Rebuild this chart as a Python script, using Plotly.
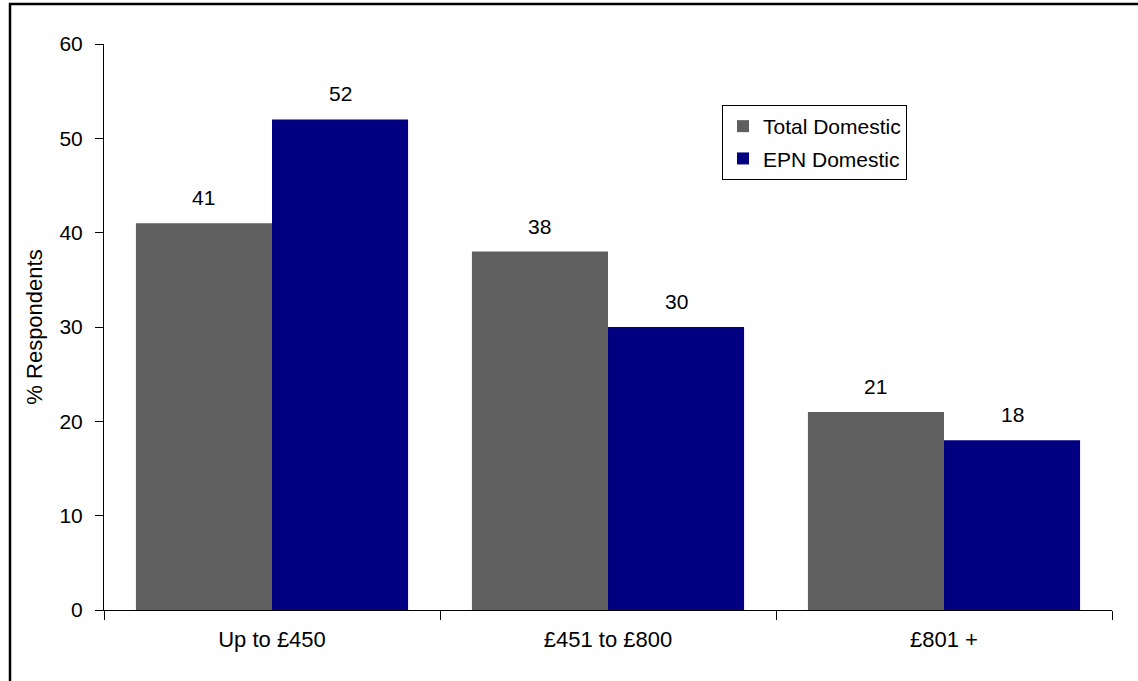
import plotly.graph_objects as go

categories = ["Up to £450", "£451 to £800", "£801 +"]
total_domestic = [41, 38, 21]
epn_domestic = [52, 30, 18]
y_ticks = [0, 10, 20, 30, 40, 50, 60]

font = "Liberation Sans, Arial, sans-serif"
colors = {"Total Domestic": "#5f5f5f", "EPN Domestic": "#000080"}
series = [("Total Domestic", total_domestic), ("EPN Domestic", epn_domestic)]

W, H = 1138, 681
l, r, t, b = 104, 26, 44, 71
pw, ph = W - l - r, H - t - b
bargap = 0.19
half_bar_px = pw / len(categories) * (1 - bargap) / 4


def px(x):
    return (x - l) / pw


def py(y):
    return (H - b - y) / ph


fig = go.Figure()
annotations = []
for i, (name, vals) in enumerate(series):
    fig.add_trace(go.Bar(name=name, x=categories, y=vals, legendgroup=name,
                         marker=dict(color=colors[name], line=dict(width=0))))
    shift = (2 * i - 1) * half_bar_px
    for c, v in zip(categories, vals):
        annotations.append(dict(x=c, y=v, xref="x", yref="y", text=str(v),
                                showarrow=False, yanchor="bottom", xanchor="center",
                                xshift=shift, yshift=12,
                                font=dict(size=21, color="black", family=font)))

fig.update_layout(
    width=W, height=H,
    margin=dict(l=l, r=r, t=t, b=b, pad=0),
    paper_bgcolor="white", plot_bgcolor="white",
    barmode="group", bargap=bargap, bargroupgap=0,
    font=dict(family=font, size=21, color="black"),
    showlegend=True,
    legend=dict(x=px(722), y=py(105), xanchor="left", yanchor="top",
                bordercolor="black", borderwidth=1, bgcolor="white",
                font=dict(size=21, family=font), itemsizing="constant",
                tracegroupgap=2, entrywidth=150, entrywidthmode="pixels"),
    xaxis=dict(showline=True, linecolor="black", linewidth=1, ticks="outside",
               tickson="boundaries", ticklen=9, tickcolor="black",
               tickfont=dict(size=22), showgrid=False, ticklabelstandoff=10),
    yaxis=dict(range=[0, 60], tickvals=y_ticks, showline=True, linecolor="black",
               linewidth=1, ticks="outside", ticklen=8, tickcolor="black",
               tickfont=dict(size=21), showgrid=False, zeroline=False,
               ticklabelstandoff=8,
               title=dict(text="% Respondents", font=dict(size=22), standoff=10)),
    annotations=annotations,
    shapes=[dict(type="rect", xref="paper", yref="paper",
                 x0=px(10), x1=px(1150), y0=py(700), y1=py(4),
                 line=dict(color="black", width=2.5), fillcolor="rgba(0,0,0,0)",
                 layer="above")],
)

fig.write_html("out.html")
